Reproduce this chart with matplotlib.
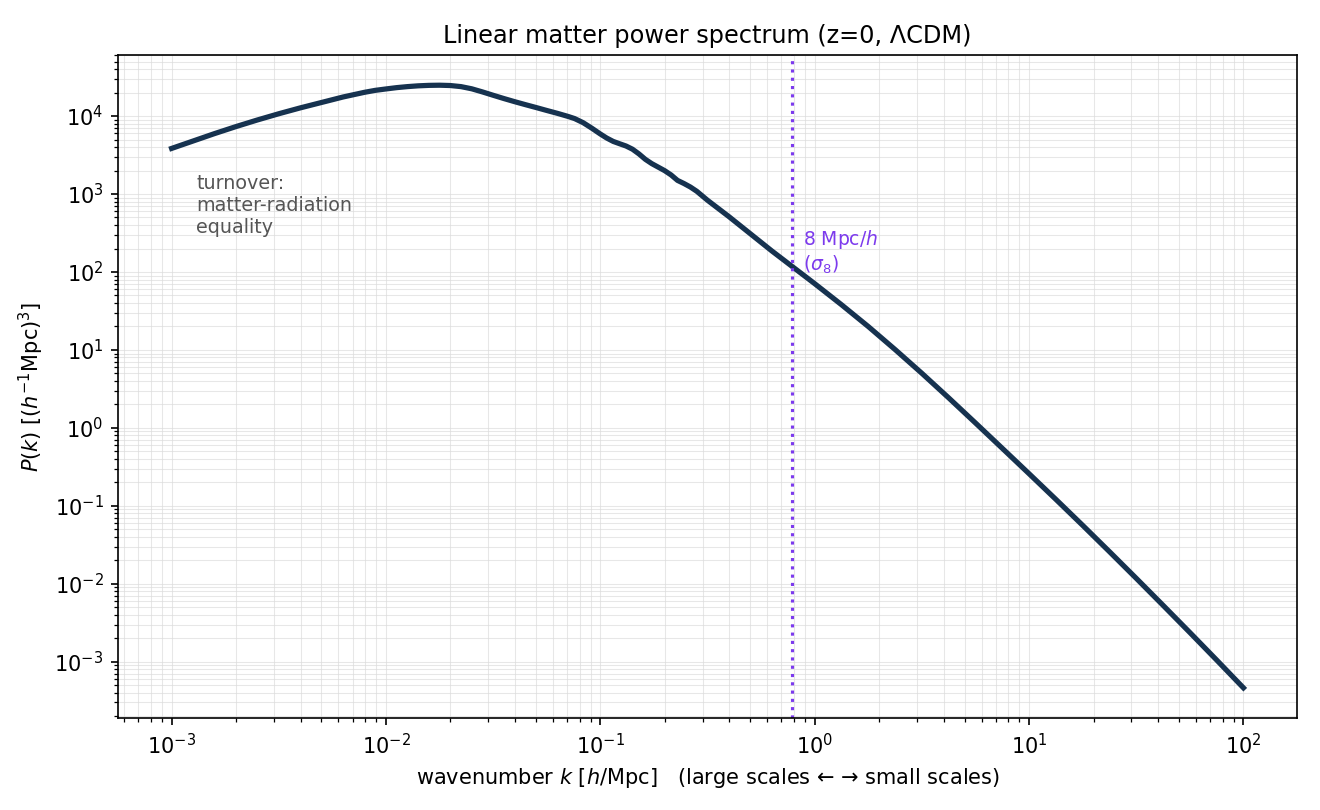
import numpy as np
import matplotlib
matplotlib.use("Agg")
import matplotlib.pyplot as plt

# values, as log10 k [h/Mpc] and log10 P(k)
log_k = [-3.00, -2.90, -2.80, -2.70, -2.60, -2.50, -2.40, -2.30, -2.20, -2.10,
         -2.05, -2.00, -1.95, -1.90, -1.85, -1.80, -1.75, -1.70, -1.65, -1.60,
         -1.55, -1.50, -1.45, -1.40, -1.35, -1.30, -1.25, -1.20, -1.15, -1.12,
         -1.08, -1.04, -1.00, -0.97, -0.94, -0.91, -0.88, -0.85, -0.82, -0.79,
         -0.76, -0.73, -0.70, -0.67, -0.64, -0.61, -0.58, -0.55, -0.50, -0.45,
         -0.40, -0.35, -0.30, -0.25, -0.20, -0.15, -0.10, -0.05, 0.000, 0.125,
         0.250, 0.375, 0.500, 0.625, 0.750, 0.875, 1.000, 1.125, 1.250, 1.375,
         1.500, 1.625, 1.750, 1.875, 2.000]
log_pk = [3.585, 3.680, 3.775, 3.865, 3.950, 4.030, 4.105, 4.175, 4.245, 4.305,
          4.330, 4.348, 4.365, 4.378, 4.388, 4.394, 4.396, 4.392, 4.378, 4.350,
          4.310, 4.267, 4.225, 4.185, 4.147, 4.110, 4.072, 4.035, 3.995, 3.968,
          3.915, 3.845, 3.770, 3.718, 3.675, 3.645, 3.616, 3.575, 3.515, 3.445,
          3.390, 3.345, 3.300, 3.245, 3.175, 3.135, 3.090, 3.035, 2.920, 2.815,
          2.710, 2.600, 2.490, 2.380, 2.270, 2.165, 2.060, 1.955, 1.850, 1.580,
          1.300, 1.005, 0.700, 0.385, 0.063, -0.262, -0.588, -0.917, -1.250, -1.588,
          -1.930, -2.276, -2.625, -2.978, -3.335]

k = 10.0 ** np.array(log_k)
pk = 10.0 ** np.array(log_pk)
k_sigma8 = 2 * np.pi / 8.0

fig, ax = plt.subplots(figsize=(8.8, 5.4), dpi=150)
fig.subplots_adjust(left=0.0894, right=0.9826, top=0.932, bottom=0.1136)

ax.loglog(k, pk, color='#16324f', lw=2.5)
ax.axvline(k_sigma8, color='#7c3aed', ls=':', lw=1.5)

ax.text(k_sigma8 * 1.12, 180, '8 Mpc/$h$\n($\\sigma_8$)', color='#7c3aed',
        fontsize=9, va='center', ha='left')
ax.text(1.3e-3, 1.8e3, 'turnover:\nmatter-radiation\nequality', color='#555555',
        fontsize=9.2, va='top', ha='left')

ax.grid(True, which='both', color='#dddddd', lw=0.5, alpha=0.7)
ax.set_xlabel('wavenumber $k$ [$h$/Mpc]   (large scales ← → small scales)')
ax.set_ylabel('$P(k)$ [$(h^{-1}$Mpc$)^3$]')
ax.set_title('Linear matter power spectrum (z=0, ΛCDM)', fontsize=11.5)

fig.savefig('out.png', dpi=150)
